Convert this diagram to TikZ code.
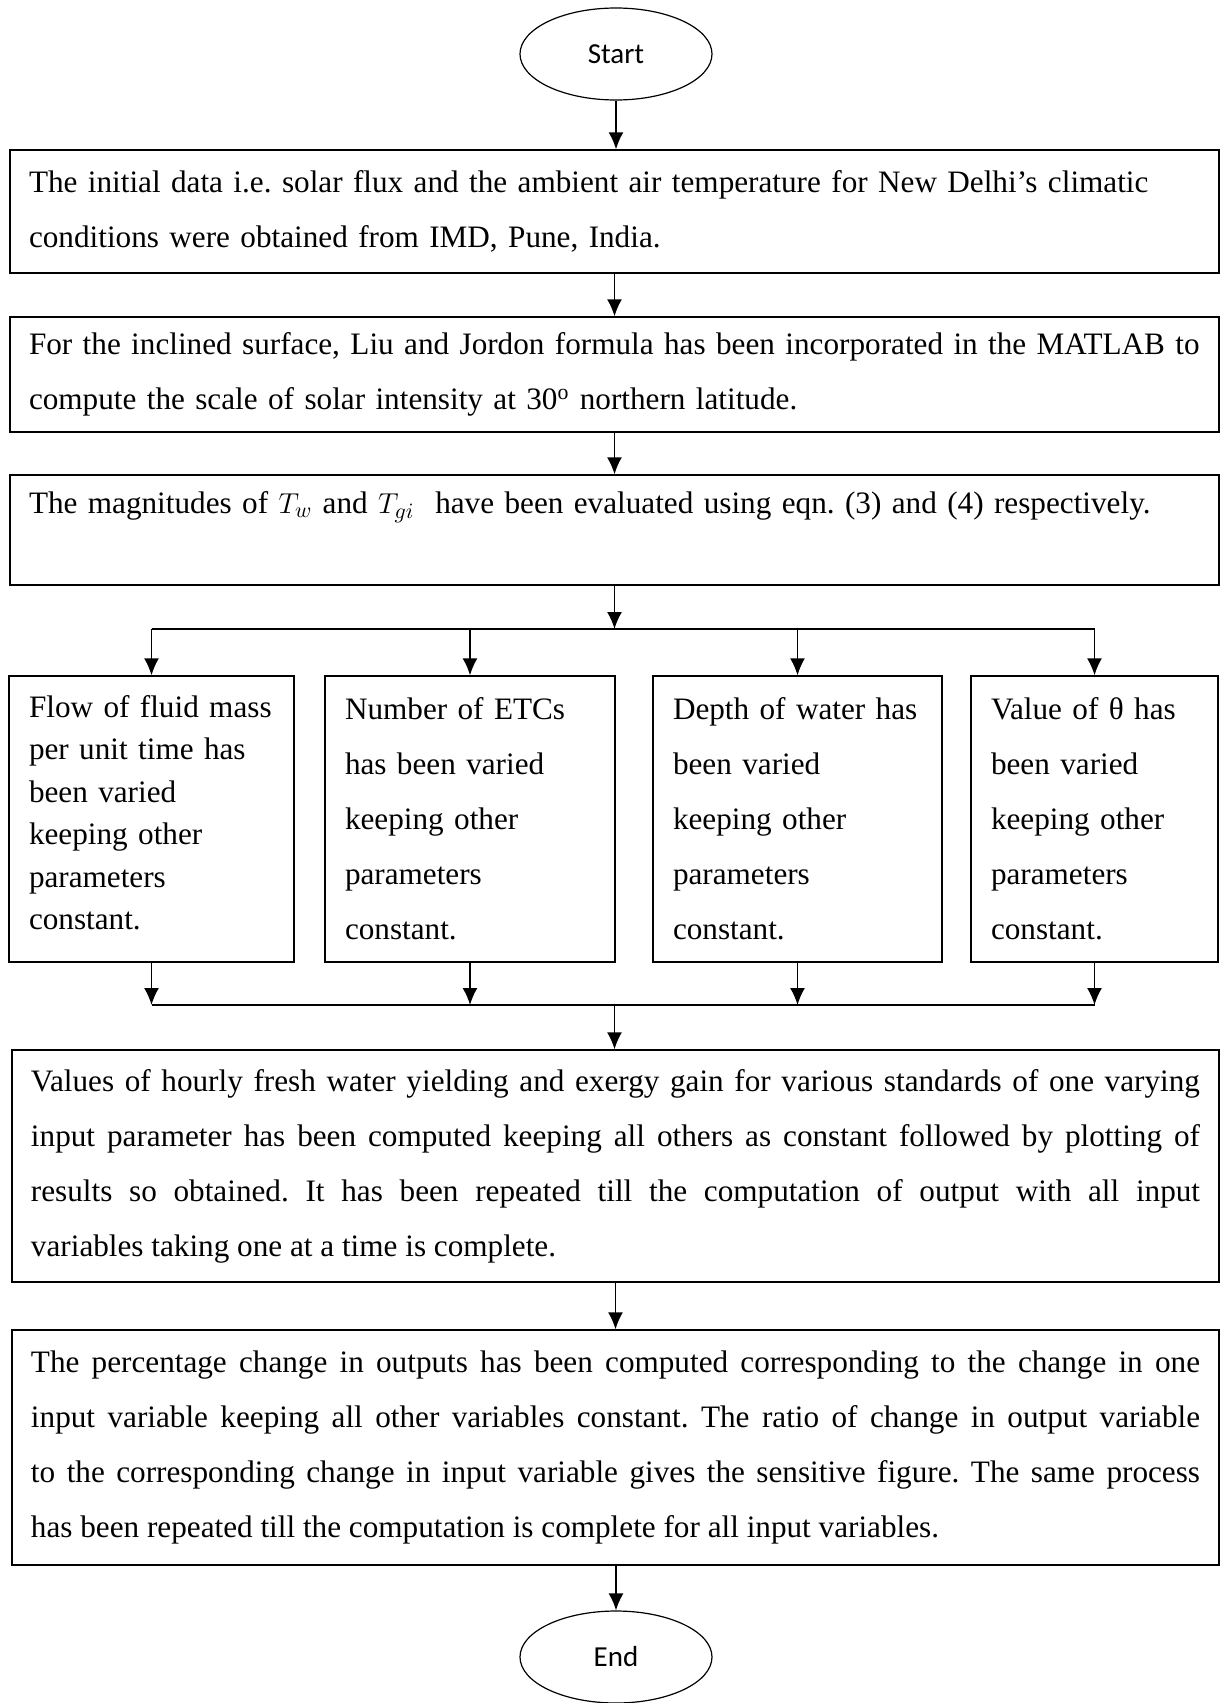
\documentclass[tikz,border=0pt]{standalone}
\usepackage{fontspec}
\setmainfont{Liberation Serif}
\newfontfamily\calibrifont{Carlito}
\usetikzlibrary{shapes.geometric, positioning, arrows.meta}
\hyphenpenalty=10000
\exhyphenpenalty=10000
\frenchspacing

\begin{document}
\begin{tikzpicture}[x=0.5pt, y=-0.5pt,
    >={Latex[length=8.5pt,width=7.5pt]},
    terminal/.style={draw, ellipse, line width=0.6pt, minimum width=96pt,
      minimum height=46pt, font=\calibrifont\fontsize{14.5}{17}\selectfont},
    procbox/.style={draw, rectangle, line width=0.7pt, inner xsep=9.5pt,
      inner ysep=2pt, font=\fontsize{15.6}{27.5}\selectfont},
    widebox/.style={procbox, text width=#1, align=left},
    justbox/.style={procbox, text width=#1, align=justify},
    varybox/.style={procbox, inner xsep=10pt, text width=#1, align=left,
      minimum height=143pt},
    flowline/.style={line width=0.8pt}]

  \useasboundingbox (0,0) rectangle (1220,1703);

  % main column
  \node[terminal] (start) at (616,54) {Start};
  \node[widebox=585.5pt, minimum height=61.5pt] (init) at (614.5,211.5)
    {\mbox{The initial data i.e. solar flux and the ambient air temperature for New Delhi’s climatic}\\
     conditions were obtained from IMD, Pune, India.};
  \node[widebox=585.5pt, minimum height=57.5pt] (incl) at (614.5,374.5)
    {\mbox{For the inclined surface, Liu and Jordon formula has been incorporated in the MATLAB to}\\
     compute the scale of solar intensity at 30\textsuperscript{o} northern latitude.};
  \node[widebox=585.5pt, minimum height=55pt] (mag) at (614.5,530)
    {The magnitudes of $T_w$ and $T_{gi}$\ \ have been evaluated using eqn. (3) and (4) respectively.\\
     \mbox{}};

  % the four varied parameters
  \node[varybox=122.5pt, font=\fontsize{15.6}{21.25}\selectfont] (flow) at (151.5,819)
    {\mbox{Flow of fluid mass}\\ \mbox{per unit time has}\\ been varied\\ keeping other\\ parameters\\
     \raisebox{0pt}[\height][\dimexpr\depth+6.5pt]{constant.}};
  \node[varybox=125pt] (etc) at (470,819)
    {\mbox{Number of ETCs}\\ \mbox{has been varied}\\ keeping other\\ parameters\\ constant.};
  \node[varybox=124.5pt] (depth) at (797.5,819)
    {\mbox{Depth of water has}\\ been varied\\ keeping other\\ parameters\\ constant.};
  \node[varybox=103.5pt] (theta) at (1094.5,819)
    {\mbox{Value of θ has}\\ been varied\\ keeping other\\ parameters\\ constant.};

  \node[justbox=584.5pt, minimum height=116pt] (yield) at (615.5,1166)
    {Values of hourly fresh water yielding and exergy gain for various standards of one varying\linebreak
     input parameter has been computed keeping all others as constant followed by plotting of\linebreak
     results so obtained. It has been repeated till the computation of output with all input\linebreak
     variables taking one at a time is complete.};
  \node[justbox=584.5pt, minimum height=117.5pt] (sens) at (615.5,1447.5)
    {The percentage change in outputs has been computed corresponding to the change in one\linebreak
     input variable keeping all other variables constant. The ratio of change in output variable\linebreak
     to the corresponding change in input variable gives the sensitive figure. The same process\linebreak
     has been repeated till the computation is complete for all input variables.};
  \node[terminal] (stop) at (616,1657) {End};

  \coordinate (split) at (614.5,629);
  \coordinate (merge) at (614.5,1005);

  % connectors
  \draw[flowline, ->] (start) -- (start |- init.north);
  \draw[flowline, ->] (init) -- (incl);
  \draw[flowline, ->] (incl) -- (mag);
  \draw[flowline, ->] (mag) -- (split);
  \draw[flowline] (flow.north |- split) -- (theta.north |- split);
  \draw[flowline] (flow.south |- merge) -- (theta.south |- merge);
  \foreach \b in {flow, etc, depth, theta}
  {
    \draw[flowline, ->] (\b.north |- split) -- (\b);
    \draw[flowline, ->] (\b) -- (\b.south |- merge);
  }
  \draw[flowline, ->] (merge) -- (merge |- yield.north);
  \draw[flowline, ->] (yield) -- (sens);
  \draw[flowline, ->] (sens.south -| stop) -- (stop);
\end{tikzpicture}
\end{document}
